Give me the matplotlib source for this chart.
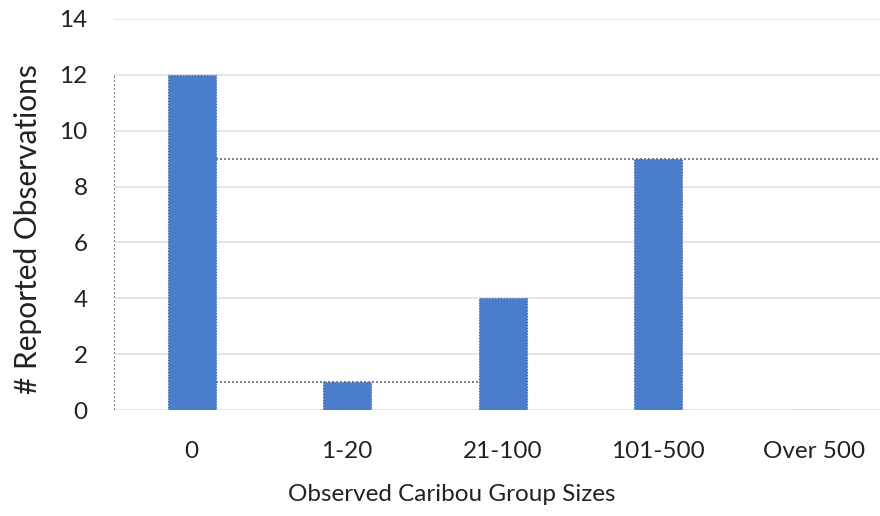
import matplotlib.pyplot as plt

# caribou group size survey counts
group_sizes = ["0", "1-20", "21-100", "101-500", "Over 500"]
observations = [12, 1, 4, 9, 0]
y_ticks = [0, 2, 4, 6, 8, 10, 12, 14]

plt.rcParams['font.family'] = ['Lato', 'DejaVu Sans']

fig = plt.figure(figsize=(8.8, 5.16), dpi=100)
ax = fig.add_axes([0.1295, 0.2054, 0.8835, 0.7578])

bar_w = 0.31
x = list(range(len(group_sizes)))
ax.bar(x, observations, width=bar_w, color='#4a7dcb', edgecolor='#3a5f9a',
       linewidth=0.8, linestyle=':', zorder=3)

# dotted guide lines between bars
dot = dict(color='#6a6a6a', linestyle=(0, (1.2, 1.2)), linewidth=1.2, zorder=2)
ax.plot([-0.5, -0.5], [0, observations[0]], **dot)
ax.plot([x[0] + bar_w / 2, x[2] - bar_w / 2], [observations[1]] * 2, **dot)
ax.plot([x[0] + bar_w / 2, x[-1] + 0.5], [observations[3]] * 2, **dot)

ax.set_xlim(-0.5, len(group_sizes) - 0.5)
ax.set_ylim(0, 14)
ax.set_yticks(y_ticks)
ax.set_yticklabels([str(v) for v in y_ticks], fontsize=17.5, color='#222222')
ax.set_xticks(x)
ax.set_xticklabels(group_sizes, fontsize=17.5, color='#222222')
ax.tick_params(length=0)
ax.tick_params(axis='y', pad=19)
ax.tick_params(axis='x', pad=22)

ax.yaxis.grid(True, color='#e2e2e2', linewidth=1.2, zorder=0)
ax.set_axisbelow(True)
for s in ax.spines.values():
    s.set_visible(False)

ax.set_ylabel("# Reported Observations", fontsize=21.5, color='#222222')
ax.yaxis.set_label_coords(-0.093, 0.462)
ax.set_xlabel("Observed Caribou Group Sizes", fontsize=17.5, color='#222222')
ax.xaxis.set_label_coords(0.435, -0.19)

fig.savefig("out.png", dpi=100)
